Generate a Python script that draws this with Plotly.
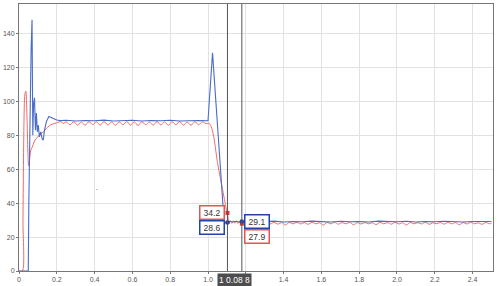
import plotly.graph_objects as go

# ---- data ----
blue_t = [0, 0.049, 0.052, 0.058, 0.064, 0.069, 0.073, 0.077, 0.082, 0.087, 0.092, 0.097,
          0.102, 0.108, 0.115, 0.122, 0.128, 0.135, 0.145, 0.158, 0.17, 0.185, 0.2, 0.22,
          0.25, 0.3, 0.35, 0.4, 0.45, 0.5, 0.55, 0.6, 0.65, 0.7, 0.75, 0.8, 0.85, 0.9, 0.95, 1.0,
          1.024, 1.085, 1.093, 1.103, 1.115, 1.13, 1.15, 1.165, 1.179,
          1.2, 1.25, 1.3, 1.35, 1.4, 1.45, 1.5, 1.55, 1.6, 1.65, 1.7, 1.75, 1.8, 1.85, 1.9,
          1.95, 2.0, 2.05, 2.1, 2.15, 2.2, 2.25, 2.3, 2.35, 2.4, 2.45, 2.5]
blue_y = [0, 0, 40, 95, 130, 148, 80, 98, 102, 83, 93, 82,
          86, 79, 82, 78, 77, 83, 88, 91, 90.5, 89.5, 89, 88.6,
          88.8, 88.4, 88.7, 88.5, 88.9, 88.4, 88.6, 88.8, 88.4, 88.7, 88.5, 88.8, 88.4, 88.6, 88.7, 88.5,
          128.5, 29.5, 28.3, 28.6, 29.4, 28.9, 29.3, 28.9, 29.1,
          29.3, 28.9, 29.2, 29.4, 28.9, 29.2, 29.0, 29.4, 29.1, 28.9, 29.3, 29.0, 29.2, 28.9, 29.4,
          29.1, 29.0, 29.3, 28.9, 29.2, 29.0, 29.3, 29.1, 28.9, 29.2, 29.0, 29.2]

red_t = [0, 0.018, 0.021, 0.026, 0.031, 0.036, 0.042, 0.047, 0.051, 0.056, 0.062, 0.07,
         0.08, 0.09, 0.1, 0.115, 0.13, 0.145, 0.16, 0.175, 0.19, 0.205, 0.22, 0.235,
         0.25, 0.27, 0.29, 0.31, 0.33, 0.35, 0.37, 0.39, 0.41, 0.43, 0.45, 0.47, 0.49,
         0.51, 0.53, 0.55, 0.57, 0.59, 0.61, 0.63, 0.65, 0.67, 0.69, 0.71, 0.73, 0.75,
         0.77, 0.79, 0.81, 0.83, 0.85, 0.87, 0.89, 0.91, 0.93, 0.95, 0.97, 0.99,
         1.005, 1.015, 1.024, 1.035, 1.05, 1.065, 1.077, 1.09, 1.098, 1.103, 1.107, 1.111,
         1.118, 1.126, 1.134, 1.142, 1.15, 1.158, 1.166, 1.174, 1.179, 1.19,
         1.21, 1.23, 1.25, 1.27, 1.29, 1.31, 1.33, 1.35, 1.37, 1.39, 1.41, 1.43, 1.45,
         1.47, 1.49, 1.51, 1.53, 1.55, 1.57, 1.59, 1.61, 1.63, 1.65, 1.67, 1.69, 1.71,
         1.73, 1.75, 1.77, 1.79, 1.81, 1.83, 1.85, 1.87, 1.89, 1.91, 1.93, 1.95, 1.97,
         1.99, 2.01, 2.03, 2.05, 2.07, 2.09, 2.11, 2.13, 2.15, 2.17, 2.19, 2.21, 2.23,
         2.25, 2.27, 2.29, 2.31, 2.33, 2.35, 2.37, 2.39, 2.41, 2.43, 2.45, 2.47, 2.49, 2.5]
red_y = [0, 0, 30, 85, 104, 106, 92, 70, 62, 66, 71, 73,
         76, 78, 79, 81, 82, 84, 85.5, 86.5, 87, 87.5, 88, 87,
         87.9, 86.1, 88.0, 85.9, 87.8, 85.8, 88.0, 86.2, 87.9, 85.9, 88.1, 86.0, 87.8,
         85.8, 87.9, 86.1, 88.1, 85.9, 87.9, 85.7, 88.0, 86.1, 87.8, 85.9, 88.1, 86.0,
         87.9, 85.8, 88.0, 86.1, 88.1, 85.9, 87.8, 85.8, 88.0, 86.1, 87.9, 86.8,
         87.0, 85.5, 82.5, 76, 64, 55, 48, 40.5, 35.6, 34.2, 30.5, 27.8,
         29.4, 28.1, 29.6, 28.2, 29.3, 28.0, 29.1, 27.9, 27.9, 28.8,
         27.8, 28.6, 27.7, 28.5, 27.2, 28.6, 27.8, 28.7, 27.6, 28.5, 27.1, 28.6, 27.8,
         28.7, 27.7, 28.5, 27.5, 28.7, 27.8, 28.4, 27.0, 28.6, 27.8, 28.7, 27.6, 28.5,
         27.8, 28.7, 27.2, 28.5, 27.7, 28.6, 27.8, 28.4, 27.3, 28.7, 27.8, 28.5, 27.6,
         28.7, 27.7, 28.4, 27.1, 28.6, 27.8, 28.5, 27.7, 28.7, 27.5, 28.4, 27.8, 28.6,
         27.6, 28.7, 27.8, 28.5, 27.2, 28.6, 27.7, 28.7, 27.8, 28.4, 27.5, 28.6, 27.8, 28.2]

stray_t = [0.41, 0.414]
stray_y = [48, 48]

cursor_t = [1.103, 1.179]
cursor_red = [34.2, 27.9]
cursor_blue = [28.6, 29.1]
cursor_label = "1 0.08 8"

xtick_vals = [0, 0.2, 0.4, 0.6, 0.8, 1.0, 1.2, 1.4, 1.6, 1.8, 2.0, 2.2, 2.4]
xtick_text = ["0", "0.2", "0.4", "0.6", "0.8", "1.0", "", "1.4", "1.6", "1.8", "2.0", "2.2", "2.4"]
ytick_vals = [0, 20, 40, 60, 80, 100, 120, 140]

BLUE = "#4a6cc8"
RED = "#ee6b6b"

fig = go.Figure()
fig.add_trace(go.Scatter(x=red_t, y=red_y, mode="lines", line_shape="spline",
                         line=dict(color=RED, width=1, smoothing=0.8), hoverinfo="skip"))
fig.add_trace(go.Scatter(x=blue_t, y=blue_y, mode="lines",
                         line=dict(color=BLUE, width=1.1), hoverinfo="skip"))
fig.add_trace(go.Scatter(x=stray_t, y=stray_y, mode="lines",
                         line=dict(color=BLUE, width=1), hoverinfo="skip"))

# cursor lines
for ct in cursor_t:
    fig.add_vline(x=ct, line=dict(color="#555555", width=1))

fig.add_trace(go.Scatter(x=cursor_t, y=cursor_red, mode="markers",
                         marker=dict(symbol="square", size=4, color="#e03030"), hoverinfo="skip"))
fig.add_trace(go.Scatter(x=cursor_t, y=cursor_blue, mode="markers",
                         marker=dict(symbol="circle", size=4.5, color="#2443a8"), hoverinfo="skip"))

def box(x, y, text, color, xanchor, yshift):
    fig.add_annotation(x=x, y=y, xref="x", yref="y", text=text, showarrow=False,
                       xanchor=xanchor, yanchor="middle", xshift=-2 if xanchor == "right" else 2,
                       yshift=yshift,
                       font=dict(family="Arial, Liberation Sans, sans-serif", size=8.5, color="#333333"),
                       bgcolor="white", bordercolor=color, borderwidth=1.5, borderpad=1.5,
                       width=20, height=9)

box(cursor_t[0], cursor_red[0], f"{cursor_red[0]}", "#e05555", "right", 0)
box(cursor_t[0], cursor_blue[0], f"{cursor_blue[0]}", "#2443a8", "right", -5)
box(cursor_t[1], cursor_blue[1], f"{cursor_blue[1]}", "#2443a8", "left", 0)
box(cursor_t[1], cursor_red[1], f"{cursor_red[1]}", "#e05555", "left", -13)

fig.add_annotation(x=(cursor_t[0] + cursor_t[1]) / 2, y=0, xref="x", yref="y",
                   text=cursor_label, showarrow=False, yanchor="top", yshift=-2,
                   font=dict(family="Arial, Liberation Sans, sans-serif", size=8.5, color="white"),
                   bgcolor="#4d4d4d", borderpad=1, width=31, height=10)

axis_font = dict(family="Arial, Liberation Sans, sans-serif", size=7, color="#555555")
fig.update_xaxes(range=[0, 2.508], tickvals=xtick_vals, ticktext=xtick_text,
                 showgrid=True, gridcolor="#e2e2e2", gridwidth=1,
                 showline=True, linecolor="#777777", linewidth=1, mirror=True,
                 ticks="outside", ticklen=2, tickcolor="#777777", tickfont=axis_font,
                 zeroline=False, fixedrange=True)
fig.update_yaxes(range=[0, 157.3], tickvals=ytick_vals,
                 showgrid=True, gridcolor="#e2e2e2", gridwidth=1,
                 showline=True, linecolor="#777777", linewidth=1, mirror=True,
                 ticks="outside", ticklen=2, tickcolor="#777777", tickfont=axis_font,
                 zeroline=False, fixedrange=True)

fig.update_layout(width=497, height=286, margin=dict(l=16, r=3, t=3, b=14),
                  paper_bgcolor="white", plot_bgcolor="white", showlegend=False)

fig.write_html("out.html", config={"displayModeBar": False})
